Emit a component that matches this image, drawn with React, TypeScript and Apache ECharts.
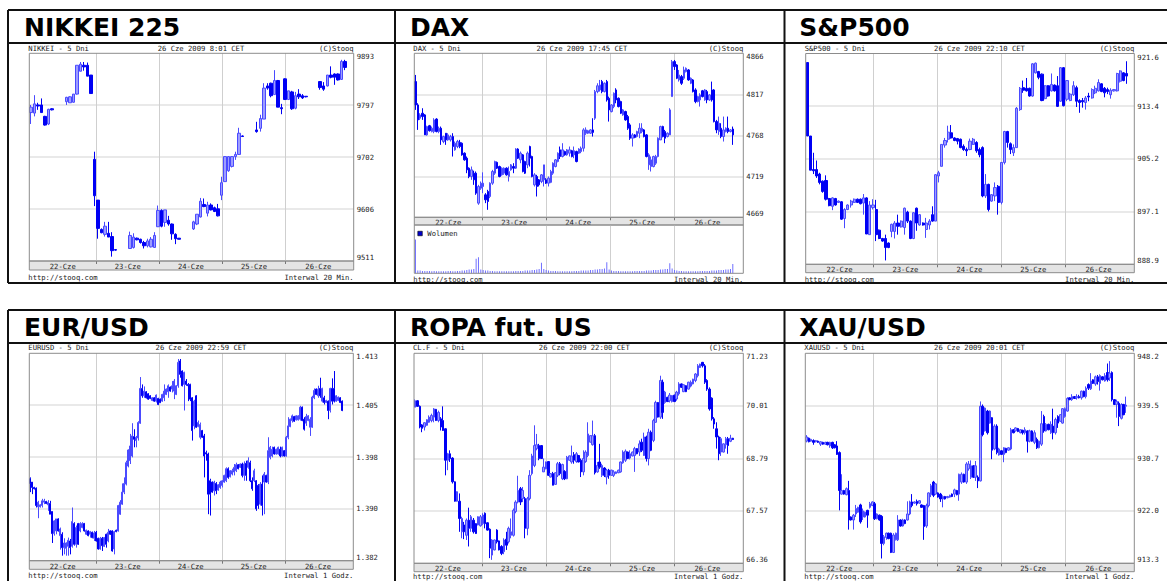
import React, { useEffect, useRef } from 'react';
import * as echarts from 'echarts';

// ---------------- labels ----------------
const days = ['22-Cze', '23-Cze', '24-Cze', '25-Cze', '26-Cze'];
const titles = ['NIKKEI 225', 'DAX', 'S&P500', 'EUR/USD', 'ROPA fut. US', 'XAU/USD'];
const codes = ['NIKKEI - 5 Dni', 'DAX - 5 Dni', 'S&P500 - 5 Dni', 'EURUSD - 5 Dni', 'CL.F - 5 Dni', 'XAUUSD - 5 Dni'];
const stamps = ['26 Cze 2009 8:01 CET', '26 Cze 2009 17:45 CET', '26 Cze 2009 22:10 CET', '26 Cze 2009 22:59 CET', '26 Cze 2009 22:00 CET', '26 Cze 2009 20:01 CET'];
const intervals = ['Interwal 20 Min.', 'Interwal 20 Min.', 'Interwal 20 Min.', 'Interwal 1 Godz.', 'Interwal 1 Godz.', 'Interwal 1 Godz.'];

const nikkeiTicks = ['9511', '9606', '9702', '9797', '9893'];
const daxTicks = ['4669', '4719', '4768', '4817', '4866'];
const spTicks = ['888.9', '897.1', '905.2', '913.4', '921.6'];
const eurTicks = ['1.382', '1.390', '1.398', '1.405', '1.413'];
const oilTicks = ['66.36', '67.57', '68.79', '70.01', '71.23'];
const xauTicks = ['913.3', '922.0', '930.7', '939.5', '948.2'];

// ---------------- data: [open, close, low, high] ----------------
const nikkeiSlots = [0, 1, 2, 3, 4, 5, 6, 10, 11, 12, 13, 14, 15, 16, 17, 18, 19, 20, 21, 22, 23, 24, 28, 29, 30, 31, 32, 33, 34, 35, 36, 37, 38, 39, 40, 41, 42, 46, 47, 48, 49, 50, 51, 52, 53, 54, 55, 56, 57, 58, 59, 60, 64, 65, 66, 67, 68, 69, 70, 71, 72, 73, 74, 75, 76, 77, 78, 82, 83, 84, 85, 86, 87, 88, 89];
const nikkeiOHLC = [
  [9784, 9794, 9763, 9798], [9783, 9800, 9777, 9816], [9798, 9796, 9789, 9802], [9798, 9784, 9784, 9810], [9777, 9761, 9760, 9778], [9763, 9790, 9761, 9791], [9791, 9789, 9788, 9792],
  [9804, 9812, 9798, 9813], [9802, 9813, 9802, 9814], [9803, 9818, 9802, 9818], [9818, 9871, 9817, 9871], [9860, 9873, 9860, 9877], [9871, 9868, 9861, 9877], [9871, 9851, 9851, 9876], [9853, 9819, 9819, 9853],
  [9698, 9631, 9612, 9712], [9623, 9571, 9552, 9623], [9569, 9563, 9562, 9571], [9560, 9575, 9556, 9583], [9562, 9555, 9555, 9583], [9556, 9530, 9519, 9564], [9532, 9531, 9530, 9533],
  [9534, 9558, 9534, 9565], [9536, 9555, 9534, 9562], [9553, 9550, 9549, 9554], [9551, 9545, 9543, 9552], [9545, 9539, 9534, 9548], [9539, 9548, 9536, 9552], [9537, 9551, 9536, 9555], [9536, 9558, 9536, 9564],
  [9574, 9604, 9574, 9613], [9604, 9575, 9573, 9606], [9582, 9605, 9574, 9605], [9586, 9579, 9576, 9594], [9579, 9561, 9550, 9580], [9560, 9552, 9542, 9562], [9553, 9551, 9551, 9553],
  [9570, 9583, 9568, 9585], [9579, 9597, 9577, 9597], [9592, 9621, 9591, 9627], [9615, 9611, 9610, 9626], [9599, 9614, 9593, 9620], [9614, 9605, 9604, 9617], [9609, 9602, 9601, 9611], [9607, 9594, 9593, 9616],
  [9632, 9655, 9623, 9666], [9657, 9703, 9657, 9704], [9677, 9703, 9675, 9704], [9685, 9703, 9683, 9704], [9703, 9707, 9697, 9712], [9707, 9746, 9706, 9756], [9741, 9740, 9739, 9742],
  [9752, 9749, 9747, 9767], [9755, 9773, 9749, 9780], [9772, 9829, 9772, 9838], [9833, 9829, 9826, 9838], [9838, 9815, 9812, 9839], [9817, 9843, 9817, 9862], [9843, 9794, 9794, 9844], [9793, 9791, 9781, 9800],
  [9846, 9808, 9807, 9847], [9808, 9824, 9807, 9824], [9822, 9791, 9789, 9824], [9792, 9815, 9790, 9822], [9818, 9813, 9809, 9827], [9815, 9811, 9809, 9818], [9814, 9813, 9812, 9814],
  [9841, 9830, 9826, 9842], [9833, 9827, 9824, 9840], [9833, 9853, 9832, 9853], [9853, 9849, 9847, 9869], [9855, 9849, 9835, 9856], [9855, 9844, 9843, 9856], [9845, 9878, 9844, 9881], [9878, 9867, 9862, 9881],
];

const daxOHLC = [
  [4832, 4804, 4798, 4840], [4804, 4786, 4774, 4806], [4788, 4792, 4786, 4794], [4794, 4790, 4786, 4800], [4792, 4768, 4768, 4793], [4768, 4778, 4767, 4779], [4779, 4773, 4772, 4780], [4772, 4776, 4771, 4778],
  [4772, 4786, 4770, 4788], [4787, 4772, 4771, 4788], [4772, 4776, 4770, 4778], [4776, 4762, 4756, 4778], [4760, 4766, 4758, 4767], [4770, 4762, 4756, 4770], [4762, 4768, 4761, 4770], [4762, 4766, 4760, 4768],
  [4766, 4754, 4742, 4770], [4750, 4758, 4749, 4760], [4754, 4760, 4752, 4762], [4759, 4754, 4752, 4762], [4758, 4744, 4743, 4759], [4746, 4738, 4737, 4747], [4740, 4726, 4722, 4742], [4728, 4718, 4716, 4729],
  [4718, 4726, 4714, 4730], [4722, 4714, 4708, 4725], [4722, 4698, 4696, 4724], [4686, 4706, 4684, 4708],
  [4704, 4710, 4702, 4712], [4706, 4710, 4698, 4723], [4696, 4690, 4686, 4698], [4700, 4688, 4678, 4702], [4694, 4710, 4692, 4711], [4710, 4724, 4708, 4726], [4722, 4736, 4720, 4737], [4735, 4728, 4727, 4736],
  [4730, 4718, 4717, 4731], [4720, 4728, 4719, 4729], [4722, 4728, 4720, 4729], [4728, 4720, 4719, 4729], [4718, 4724, 4712, 4730], [4726, 4732, 4725, 4733], [4730, 4728, 4722, 4734], [4728, 4751, 4727, 4752],
  [4751, 4740, 4739, 4752], [4738, 4746, 4734, 4748], [4744, 4724, 4723, 4745], [4736, 4722, 4721, 4737], [4732, 4746, 4728, 4748], [4754, 4740, 4730, 4755], [4742, 4718, 4717, 4743], [4708, 4720, 4706, 4722],
  [4718, 4706, 4694, 4720], [4714, 4708, 4706, 4715], [4712, 4720, 4710, 4721],
  [4714, 4732, 4706, 4732], [4714, 4710, 4709, 4716], [4710, 4716, 4706, 4718], [4711, 4724, 4710, 4726], [4722, 4734, 4720, 4735], [4730, 4738, 4729, 4739], [4736, 4746, 4735, 4747], [4750, 4742, 4739, 4754],
  [4742, 4750, 4741, 4758], [4748, 4744, 4743, 4749], [4744, 4750, 4743, 4751], [4746, 4750, 4742, 4754], [4749, 4742, 4741, 4750], [4744, 4749, 4740, 4754], [4748, 4736, 4735, 4749], [4746, 4751, 4745, 4752],
  [4748, 4752, 4746, 4754], [4752, 4774, 4748, 4776], [4770, 4774, 4768, 4777], [4770, 4773, 4769, 4774], [4770, 4774, 4769, 4775], [4774, 4771, 4766, 4788], [4788, 4820, 4786, 4822], [4820, 4827, 4818, 4830],
  [4822, 4828, 4820, 4834], [4832, 4820, 4818, 4834], [4820, 4830, 4819, 4831], [4832, 4810, 4808, 4834],
  [4812, 4798, 4784, 4814], [4796, 4804, 4795, 4805], [4802, 4818, 4800, 4819], [4822, 4810, 4806, 4824], [4812, 4802, 4801, 4813], [4808, 4794, 4793, 4809], [4792, 4798, 4791, 4799], [4796, 4786, 4785, 4797],
  [4790, 4776, 4774, 4792], [4780, 4764, 4762, 4782], [4764, 4768, 4754, 4770], [4768, 4765, 4764, 4769], [4766, 4772, 4765, 4773], [4770, 4776, 4764, 4782], [4772, 4776, 4770, 4782], [4774, 4766, 4765, 4775],
  [4768, 4742, 4741, 4769], [4732, 4744, 4726, 4746], [4730, 4738, 4724, 4742], [4730, 4742, 4729, 4743], [4734, 4742, 4732, 4744], [4742, 4764, 4741, 4765], [4762, 4778, 4762, 4779], [4778, 4766, 4765, 4779],
  [4772, 4764, 4758, 4774], [4766, 4770, 4765, 4771], [4768, 4798, 4768, 4800],
  [4814, 4856, 4814, 4858], [4856, 4850, 4846, 4858], [4852, 4836, 4835, 4853], [4834, 4840, 4832, 4846], [4838, 4830, 4828, 4840], [4836, 4846, 4834, 4850], [4844, 4848, 4843, 4849], [4846, 4834, 4833, 4847],
  [4830, 4836, 4829, 4837], [4834, 4820, 4819, 4835], [4822, 4808, 4806, 4824], [4808, 4814, 4807, 4815], [4810, 4816, 4802, 4818], [4821, 4814, 4813, 4822], [4810, 4822, 4809, 4823], [4820, 4810, 4806, 4822],
  [4810, 4816, 4809, 4817], [4822, 4810, 4808, 4832], [4822, 4784, 4783, 4823], [4784, 4774, 4770, 4786], [4772, 4782, 4768, 4790], [4776, 4766, 4764, 4782], [4766, 4774, 4760, 4790], [4772, 4776, 4771, 4777],
  [4776, 4772, 4770, 4790], [4772, 4774, 4771, 4775], [4775, 4768, 4756, 4778],
];
const daxVolume = [
  70, 6, 6, 5, 5, 5, 5, 4, 5, 4, 4, 4, 4, 4, 5, 5, 4, 4, 5, 5, 6, 6, 7, 8, 8, 9, 30, 33,
  8, 7, 6, 6, 5, 5, 4, 4, 4, 4, 4, 4, 4, 4, 4, 5, 5, 5, 5, 6, 6, 6, 7, 7, 8, 9, 22,
  9, 7, 6, 5, 5, 5, 4, 4, 4, 4, 4, 4, 4, 5, 5, 5, 6, 6, 6, 6, 7, 7, 8, 8, 9, 9, 10, 23,
  8, 6, 5, 5, 5, 4, 4, 4, 4, 4, 4, 5, 5, 5, 5, 5, 6, 6, 6, 7, 7, 7, 8, 8, 9, 9, 21,
  10, 7, 6, 5, 5, 4, 4, 4, 4, 4, 4, 4, 5, 5, 5, 5, 5, 6, 6, 6, 7, 7, 7, 8, 8, 9, 19,
];

const spOHLC = [
  [920.2, 908.8, 908.8, 920.2], [908.8, 903.5, 903.5, 908.8], [903.6, 903.4, 902.9, 906.2], [903.6, 902.6, 902.3, 905.0], [902.9, 901.6, 901.3, 903.1], [901.8, 900.2, 900.0, 901.9], [901.9, 899.0, 898.8, 902.7],
  [899.1, 898.0, 897.9, 899.2], [897.9, 899.2, 897.3, 899.3], [899.1, 898.1, 898.0, 899.2], [898.5, 898.7, 898.4, 898.8], [898.6, 895.9, 895.8, 898.7], [896.0, 897.4, 894.5, 897.6], [897.4, 898.1, 897.3, 898.2],
  [898.1, 898.7, 897.7, 898.9], [898.5, 899.0, 898.4, 899.1], [899.0, 898.5, 898.4, 899.1], [899.0, 898.3, 898.2, 899.1], [898.4, 899.2, 896.6, 899.8], [899.2, 893.6, 893.6, 899.3],
  [893.5, 898.1, 893.5, 898.7], [897.7, 898.1, 897.4, 899.0], [897.4, 893.5, 892.5, 898.9], [894.2, 892.9, 892.8, 894.3], [892.9, 892.5, 892.4, 893.0], [892.9, 891.5, 889.5, 893.5], [892.2, 891.5, 891.4, 892.3],
  [894.0, 895.1, 893.1, 895.2], [894.0, 895.3, 892.9, 895.6], [895.3, 894.8, 893.5, 896.6], [894.7, 895.6, 894.6, 895.7], [894.6, 897.6, 893.5, 897.7], [897.0, 895.6, 895.3, 897.2], [895.6, 892.9, 892.8, 895.7],
  [892.9, 896.9, 892.8, 897.0], [897.6, 895.3, 894.1, 897.7], [895.0, 896.6, 894.9, 896.7], [895.3, 895.0, 894.9, 895.4], [894.3, 895.3, 893.0, 896.1], [895.0, 895.6, 894.3, 895.9], [896.6, 895.6, 895.5, 897.9],
  [895.6, 902.8, 895.6, 902.9], [902.6, 903.1, 901.6, 903.4], [904.1, 907.5, 904.1, 907.5], [907.4, 908.1, 907.0, 908.5], [908.3, 909.4, 907.8, 910.4], [909.3, 908.5, 908.4, 910.5], [908.5, 908.1, 908.0, 908.6],
  [908.4, 908.0, 907.5, 908.5], [908.3, 907.0, 906.9, 908.4], [907.2, 906.7, 906.5, 907.5], [906.7, 906.5, 905.7, 907.0], [906.7, 908.0, 906.6, 908.4], [907.5, 908.3, 907.4, 908.5], [907.8, 906.5, 906.2, 908.0],
  [906.7, 905.9, 905.5, 907.0], [907.0, 899.5, 899.3, 907.2], [899.5, 901.3, 899.2, 902.9], [901.3, 897.4, 897.1, 901.4], [898.7, 899.7, 898.6, 899.8], [899.5, 900.8, 898.7, 901.6], [901.0, 898.5, 896.6, 901.2],
  [898.5, 904.7, 898.2, 904.7], [904.7, 909.5, 904.4, 909.6], [909.5, 907.8, 907.0, 909.6], [907.6, 906.7, 906.0, 907.8], [906.2, 907.0, 905.7, 907.5], [907.0, 913.1, 907.0, 913.3], [912.9, 916.2, 912.7, 916.4],
  [916.3, 915.9, 915.5, 917.4], [916.2, 915.8, 915.7, 917.8], [916.2, 915.0, 914.9, 916.3], [915.0, 920.0, 914.9, 920.1], [918.6, 920.1, 918.5, 920.2], [918.8, 917.9, 917.6, 918.9], [918.4, 914.3, 914.2, 918.5],
  [914.6, 916.6, 914.5, 916.7], [916.6, 915.0, 914.9, 916.7], [915.8, 916.8, 915.7, 918.5], [916.7, 915.8, 915.7, 916.8], [916.6, 913.4, 913.3, 918.1], [914.2, 919.4, 914.1, 919.5],
  [919.4, 913.5, 913.4, 919.5], [914.5, 917.4, 914.2, 917.4], [914.3, 915.3, 914.2, 915.5], [915.2, 916.6, 915.0, 917.3], [916.3, 914.2, 913.3, 916.6], [914.3, 914.0, 912.4, 914.5], [914.3, 914.1, 913.2, 914.7],
  [914.0, 914.7, 912.9, 915.0], [915.0, 914.85, 914.2, 915.5], [914.7, 916.0, 914.6, 916.2], [915.5, 916.2, 915.3, 916.6], [915.8, 917.1, 915.7, 917.6], [916.9, 915.7, 915.6, 917.0], [916.2, 915.5, 914.8, 916.4],
  [916.0, 915.7, 915.3, 916.3], [915.2, 915.9, 914.6, 916.2], [915.8, 916.0, 915.7, 916.1], [915.8, 918.5, 915.7, 918.6], [917.3, 918.9, 917.1, 919.0], [918.6, 917.4, 917.3, 918.7], [918.5, 918.1, 916.9, 920.4],
];

const eurOHLC = [
  [1.3940, 1.3933, 1.3920, 1.3942], [1.3935, 1.3927, 1.3917, 1.3935], [1.3927, 1.3925, 1.3924, 1.3928], [1.3926, 1.3900, 1.3897, 1.3927], [1.3898, 1.3905, 1.3881, 1.3907], [1.3898, 1.3901, 1.3897, 1.3902],
  [1.3900, 1.3907, 1.3897, 1.3910], [1.3905, 1.3907, 1.3902, 1.3910], [1.3906, 1.3903, 1.3902, 1.3907], [1.3901, 1.3905, 1.3892, 1.3908], [1.3903, 1.3887, 1.3887, 1.3907], [1.3891, 1.3858, 1.3844, 1.3891],
  [1.3858, 1.3877, 1.3855, 1.3878], [1.3862, 1.3880, 1.3857, 1.3880], [1.3880, 1.3862, 1.3861, 1.3881], [1.3855, 1.3865, 1.3834, 1.3867], [1.3857, 1.3837, 1.3825, 1.3860], [1.3837, 1.3844, 1.3827, 1.3851],
  [1.3836, 1.3844, 1.3825, 1.3845], [1.3839, 1.3848, 1.3825, 1.3852], [1.3847, 1.3837, 1.3827, 1.3850], [1.3839, 1.3876, 1.3837, 1.3897], [1.3873, 1.3842, 1.3840, 1.3875], [1.3842, 1.3867, 1.3837, 1.3870],
  [1.3873, 1.3842, 1.3841, 1.3874], [1.3862, 1.3873, 1.3860, 1.3875], [1.3867, 1.3873, 1.3866, 1.3875], [1.3873, 1.3862, 1.3861, 1.3874], [1.3857, 1.3863, 1.3856, 1.3864], [1.3862, 1.3855, 1.3854, 1.3863],
  [1.3857, 1.3861, 1.3852, 1.3862], [1.3860, 1.3852, 1.3851, 1.3861],
  [1.3851, 1.3859, 1.3847, 1.3862], [1.3860, 1.3847, 1.3846, 1.3862], [1.3851, 1.3835, 1.3834, 1.3852], [1.3835, 1.3851, 1.3834, 1.3853], [1.3851, 1.3840, 1.3832, 1.3853], [1.3839, 1.3852, 1.3838, 1.3853],
  [1.3857, 1.3842, 1.3837, 1.3858], [1.3847, 1.3860, 1.3845, 1.3865], [1.3862, 1.3857, 1.3856, 1.3863], [1.3862, 1.3832, 1.3831, 1.3863], [1.3835, 1.3861, 1.3827, 1.3862], [1.3863, 1.3861, 1.3860, 1.3864],
  [1.3862, 1.3900, 1.3861, 1.3901], [1.3887, 1.3905, 1.3886, 1.3908], [1.3902, 1.3920, 1.3901, 1.3933], [1.3920, 1.3933, 1.3917, 1.3942], [1.3932, 1.3964, 1.3930, 1.3967], [1.3959, 1.3983, 1.3957, 1.3984],
  [1.3967, 1.3989, 1.3962, 1.4007], [1.3974, 1.4004, 1.3972, 1.4023], [1.4003, 1.3999, 1.3987, 1.4014], [1.3997, 1.4002, 1.3987, 1.4004], [1.4001, 1.4024, 1.3997, 1.4026], [1.4023, 1.4075, 1.4022, 1.4092],
  [1.4075, 1.4064, 1.4061, 1.4081], [1.4064, 1.4071, 1.4061, 1.4078], [1.4070, 1.4061, 1.4060, 1.4071], [1.4067, 1.4059, 1.4058, 1.4068], [1.4064, 1.4060, 1.4059, 1.4065], [1.4057, 1.4061, 1.4056, 1.4062],
  [1.4061, 1.4056, 1.4055, 1.4062],
  [1.4056, 1.4065, 1.4054, 1.4066], [1.4060, 1.4051, 1.4050, 1.4061], [1.4059, 1.4054, 1.4053, 1.4060], [1.4056, 1.4066, 1.4055, 1.4067], [1.4061, 1.4071, 1.4056, 1.4081], [1.4066, 1.4074, 1.4065, 1.4075],
  [1.4070, 1.4079, 1.4061, 1.4081], [1.4077, 1.4071, 1.4070, 1.4078], [1.4074, 1.4079, 1.4069, 1.4086], [1.4071, 1.4086, 1.4059, 1.4089], [1.4066, 1.4079, 1.4065, 1.4080], [1.4079, 1.4114, 1.4076, 1.4119],
  [1.4116, 1.4096, 1.4091, 1.4119], [1.4101, 1.4079, 1.4078, 1.4102], [1.4081, 1.4099, 1.4042, 1.4100], [1.4086, 1.4081, 1.4079, 1.4089], [1.4081, 1.4079, 1.4056, 1.4083], [1.4081, 1.4059, 1.4056, 1.4082],
  [1.4061, 1.4012, 1.3997, 1.4062], [1.4019, 1.4056, 1.4014, 1.4058], [1.4064, 1.4017, 1.4016, 1.4065], [1.4018, 1.4024, 1.4017, 1.4027], [1.4002, 1.4021, 1.3999, 1.4024], [1.4012, 1.4002, 1.4001, 1.4013],
  [1.4004, 1.3974, 1.3942, 1.4007], [1.3979, 1.3977, 1.3967, 1.3982], [1.3977, 1.3917, 1.3887, 1.3979], [1.3937, 1.3917, 1.3885, 1.3940], [1.3935, 1.3920, 1.3919, 1.3936], [1.3922, 1.3935, 1.3915, 1.3937],
  [1.3933, 1.3922, 1.3917, 1.3935], [1.3923, 1.3931, 1.3922, 1.3932],
  [1.3927, 1.3935, 1.3925, 1.3937], [1.3930, 1.3937, 1.3927, 1.3938], [1.3935, 1.3945, 1.3934, 1.3946], [1.3937, 1.3955, 1.3935, 1.3957], [1.3955, 1.3942, 1.3940, 1.3957], [1.3943, 1.3952, 1.3942, 1.3953],
  [1.3947, 1.3952, 1.3945, 1.3955], [1.3950, 1.3957, 1.3945, 1.3962], [1.3952, 1.3961, 1.3950, 1.3964], [1.3961, 1.3955, 1.3954, 1.3962], [1.3957, 1.3962, 1.3956, 1.3963], [1.3962, 1.3945, 1.3942, 1.3964],
  [1.3945, 1.3962, 1.3937, 1.3966], [1.3963, 1.3945, 1.3937, 1.3967], [1.3957, 1.3967, 1.3955, 1.3972], [1.3964, 1.3937, 1.3935, 1.3967], [1.3937, 1.3925, 1.3922, 1.3942], [1.3937, 1.3952, 1.3935, 1.3955],
  [1.3937, 1.3895, 1.3892, 1.3938], [1.3930, 1.3900, 1.3895, 1.3932], [1.3902, 1.3932, 1.3900, 1.3935], [1.3932, 1.3900, 1.3885, 1.3945], [1.3935, 1.3947, 1.3887, 1.3950], [1.3945, 1.3935, 1.3934, 1.3946],
  [1.3935, 1.3982, 1.3932, 1.4002], [1.3972, 1.3987, 1.3969, 1.3989], [1.3974, 1.3984, 1.3972, 1.3988], [1.3987, 1.3977, 1.3976, 1.3988], [1.3977, 1.3984, 1.3976, 1.3985], [1.3977, 1.3987, 1.3976, 1.3988],
  [1.3984, 1.3974, 1.3972, 1.3988], [1.3974, 1.3987, 1.3973, 1.3988], [1.3982, 1.3974, 1.3973, 1.3983],
  [1.3974, 1.4002, 1.3973, 1.4004], [1.4002, 1.4019, 1.3999, 1.4032], [1.4018, 1.4029, 1.4017, 1.4030], [1.4027, 1.4034, 1.4024, 1.4036], [1.4033, 1.4026, 1.4025, 1.4034], [1.4028, 1.4034, 1.4027, 1.4035],
  [1.4028, 1.4034, 1.4027, 1.4035], [1.4029, 1.4047, 1.4027, 1.4049], [1.4047, 1.4027, 1.4026, 1.4048], [1.4029, 1.4014, 1.4012, 1.4032], [1.4023, 1.4033, 1.4019, 1.4037], [1.4027, 1.4034, 1.4026, 1.4035],
  [1.4017, 1.4029, 1.4004, 1.4032], [1.4017, 1.4062, 1.4016, 1.4064], [1.4061, 1.4072, 1.4059, 1.4075], [1.4074, 1.4066, 1.4065, 1.4075], [1.4064, 1.4074, 1.4061, 1.4079], [1.4075, 1.4064, 1.4061, 1.4091],
  [1.4056, 1.4075, 1.4054, 1.4076], [1.4061, 1.4054, 1.4051, 1.4064], [1.4054, 1.4057, 1.4053, 1.4058], [1.4056, 1.4042, 1.4029, 1.4057], [1.4042, 1.4075, 1.4039, 1.4076], [1.4075, 1.4056, 1.4051, 1.4090],
  [1.4075, 1.4056, 1.4054, 1.4101], [1.4056, 1.4064, 1.4055, 1.4065], [1.4057, 1.4062, 1.4056, 1.4063], [1.4061, 1.4054, 1.4053, 1.4062], [1.4056, 1.4042, 1.4041, 1.4057],
];

const oilOHLC = [
  [69.98, 70.13, 69.98, 70.16], [70.13, 70.00, 69.99, 70.14], [70.00, 69.52, 69.49, 70.02], [69.57, 69.49, 69.40, 69.59], [69.52, 69.62, 69.44, 69.63], [69.56, 69.69, 69.55, 69.70], [69.63, 69.75, 69.62, 69.79],
  [69.67, 69.79, 69.63, 69.83], [69.75, 69.94, 69.63, 69.96], [69.93, 69.67, 69.66, 69.94], [69.67, 69.86, 69.63, 69.90], [69.71, 69.52, 69.44, 69.75], [69.67, 69.44, 69.43, 70.00], [69.48, 68.75, 68.40, 69.49],
  [68.75, 68.90, 68.52, 68.92], [68.90, 68.79, 68.71, 68.98], [68.80, 68.25, 68.21, 68.82], [68.25, 67.80, 67.79, 68.26], [67.80, 68.02, 67.79, 68.03], [67.80, 67.40, 67.09, 67.98], [67.09, 67.40, 66.94, 67.44],
  [67.25, 67.09, 66.92, 67.32], [67.01, 67.36, 66.90, 67.40], [67.36, 67.17, 66.75, 67.65], [67.17, 67.44, 67.09, 67.48], [67.36, 67.09, 67.05, 67.41], [67.28, 67.05, 67.04, 67.29], [67.25, 67.44, 67.24, 67.45],
  [67.23, 67.44, 67.21, 67.48], [67.28, 67.48, 67.25, 67.52], [67.52, 67.28, 67.17, 67.54], [67.30, 67.13, 67.12, 67.31], [67.15, 66.71, 66.48, 67.17], [66.55, 66.90, 66.44, 66.92], [66.67, 66.90, 66.66, 66.91],
  [67.13, 66.86, 66.82, 67.15], [66.88, 66.67, 66.66, 66.89], [66.75, 66.59, 66.55, 66.78], [66.63, 66.90, 66.57, 66.94], [66.92, 66.78, 66.67, 67.09], [66.86, 67.17, 66.82, 67.21], [67.01, 67.09, 66.94, 67.40],
  [67.01, 67.59, 66.98, 67.63], [67.56, 67.78, 67.52, 67.82], [67.78, 68.05, 67.75, 68.39], [68.09, 67.78, 67.71, 68.13], [67.86, 68.05, 67.78, 68.13], [67.86, 67.17, 66.94, 67.90], [67.17, 67.86, 67.01, 67.90],
  [67.86, 68.40, 67.82, 68.52], [68.44, 68.85, 68.40, 68.90], [68.63, 69.09, 68.59, 69.56], [69.02, 69.11, 68.98, 69.36], [69.09, 68.79, 68.75, 69.13], [69.09, 68.79, 68.78, 69.10],
  [68.48, 68.59, 68.48, 68.79], [68.55, 68.71, 68.54, 68.72], [68.72, 68.40, 68.39, 68.73], [68.36, 68.44, 68.35, 68.45], [68.44, 68.17, 68.17, 68.48], [68.19, 68.46, 68.18, 68.47], [68.40, 68.67, 68.36, 68.71],
  [68.67, 68.44, 68.40, 68.71], [68.32, 68.65, 68.29, 68.67], [68.49, 68.32, 68.29, 68.52], [68.32, 68.82, 68.31, 68.85], [68.75, 68.85, 68.74, 68.86], [68.71, 68.85, 68.67, 69.09], [68.88, 68.75, 68.67, 68.94],
  [68.72, 68.90, 68.69, 68.94], [68.86, 68.71, 68.70, 68.87], [68.75, 68.48, 68.36, 68.79], [68.48, 68.79, 68.40, 68.98], [68.72, 68.94, 68.69, 68.98], [68.86, 69.36, 68.82, 69.63], [69.17, 69.32, 69.16, 69.33],
  [69.11, 69.32, 69.09, 69.67], [69.32, 68.46, 68.42, 69.36], [68.48, 68.63, 68.46, 68.71], [68.71, 68.59, 68.55, 69.13], [68.40, 68.63, 68.36, 68.67], [68.57, 68.40, 68.36, 68.59], [68.36, 68.52, 68.19, 68.55],
  [68.52, 68.40, 68.32, 68.55], [68.40, 68.52, 68.39, 68.53], [68.40, 68.48, 68.36, 68.52], [68.44, 68.48, 68.43, 68.49], [68.46, 68.52, 68.45, 68.53], [68.48, 68.71, 68.46, 68.72], [68.69, 68.94, 68.67, 68.98],
  [68.75, 68.96, 68.71, 69.00], [68.94, 68.79, 68.78, 68.95], [68.80, 68.90, 68.77, 68.98], [68.85, 68.94, 68.84, 68.95], [68.86, 69.02, 68.48, 69.06], [69.02, 68.90, 68.89, 69.03], [68.94, 69.13, 68.85, 69.21],
  [69.17, 68.98, 68.94, 69.25], [68.86, 69.29, 68.85, 69.39], [69.29, 68.79, 68.72, 69.32], [68.79, 69.40, 68.63, 69.48], [69.40, 68.98, 68.96, 69.44], [69.21, 69.67, 69.17, 69.71], [69.63, 70.09, 69.62, 70.13],
  [70.09, 69.75, 69.74, 70.10], [69.75, 70.60, 69.71, 70.71], [70.56, 69.86, 69.71, 70.62], [70.09, 70.33, 70.06, 70.36], [70.21, 70.11, 70.10, 70.22], [70.13, 70.26, 70.09, 70.31],
  [70.11, 70.25, 70.09, 70.26], [70.26, 70.11, 70.10, 70.27], [70.17, 70.33, 70.13, 70.36], [70.29, 70.52, 70.25, 70.56], [70.52, 70.44, 70.43, 70.53], [70.34, 70.50, 70.33, 70.51], [70.48, 70.34, 70.33, 70.49],
  [70.40, 70.56, 70.39, 70.57], [70.47, 70.56, 70.44, 70.60], [70.52, 70.63, 70.51, 70.64], [70.60, 70.75, 70.56, 70.77], [70.71, 70.94, 70.67, 70.98], [70.90, 70.98, 70.89, 70.99], [71.02, 70.94, 70.90, 71.03],
  [70.94, 70.56, 70.52, 70.98], [70.60, 70.40, 70.36, 70.63], [70.40, 69.94, 69.90, 70.44], [70.19, 69.71, 69.67, 70.21], [69.71, 69.59, 69.48, 69.75], [69.48, 69.29, 69.02, 69.63], [69.29, 68.90, 68.75, 69.32],
  [68.94, 69.25, 68.85, 69.29], [68.94, 69.13, 68.93, 69.14], [69.11, 69.25, 69.02, 69.29], [69.25, 69.09, 68.90, 69.29], [69.19, 69.26, 69.17, 69.34], [69.26, 69.23, 69.22, 69.27],
];

const xauOHLC = [
  [933.6, 934.3, 933.4, 934.6], [934.1, 933.5, 933.4, 934.2], [933.6, 933.9, 933.5, 934.0], [933.7, 933.4, 933.0, 933.9], [933.5, 933.7, 933.4, 933.8], [933.6, 933.4, 933.3, 933.7], [933.1, 933.5, 932.8, 933.6],
  [933.4, 933.1, 933.0, 933.5], [933.1, 933.4, 933.0, 933.5], [933.4, 933.0, 932.9, 933.5], [932.8, 933.4, 932.5, 933.5], [933.4, 932.5, 932.3, 933.5], [933.0, 932.5, 932.4, 933.1], [932.8, 931.4, 931.3, 933.6],
  [931.7, 925.4, 922.1, 931.9], [924.8, 925.4, 924.7, 928.1], [925.4, 924.8, 924.7, 925.5], [924.7, 925.7, 924.6, 925.9], [925.4, 920.5, 918.9, 927.0], [921.0, 920.5, 920.4, 921.1], [920.5, 921.3, 918.9, 921.5],
  [921.5, 922.4, 921.0, 923.0], [921.8, 922.6, 921.7, 922.7], [923.0, 920.2, 919.9, 923.2], [921.0, 922.0, 920.5, 922.4], [921.0, 921.8, 920.9, 921.9], [922.1, 921.3, 919.2, 922.2],
  [922.6, 923.2, 922.4, 923.5], [922.9, 923.5, 922.8, 923.6], [923.2, 920.7, 920.5, 923.5], [920.7, 921.5, 920.6, 921.6], [921.3, 920.5, 920.4, 921.4], [921.1, 916.6, 914.1, 921.3], [916.6, 917.7, 916.3, 918.0],
  [917.6, 918.3, 917.2, 918.4], [918.3, 917.4, 917.3, 918.4], [918.3, 915.1, 915.0, 918.4], [915.1, 918.0, 915.0, 918.3], [917.2, 918.3, 917.1, 918.4], [917.2, 920.5, 917.0, 921.3], [920.5, 919.5, 919.4, 920.6],
  [919.5, 920.5, 919.4, 920.7], [920.5, 919.9, 919.8, 920.6], [920.5, 921.5, 920.4, 923.6], [921.5, 923.5, 921.3, 923.7], [923.5, 922.9, 922.6, 924.8], [923.3, 923.5, 923.2, 923.6], [923.6, 923.2, 922.9, 923.9],
  [923.3, 923.7, 923.2, 923.8], [923.0, 922.6, 922.5, 923.1], [922.9, 919.4, 917.2, 923.0], [919.5, 922.9, 919.2, 923.2], [922.9, 925.0, 922.6, 925.1], [924.7, 926.2, 924.3, 926.5], [926.8, 924.6, 924.3, 927.0],
  [924.8, 926.5, 924.7, 926.6], [925.0, 924.3, 924.2, 925.1], [924.8, 924.0, 923.5, 925.0], [924.0, 924.4, 922.6, 924.6], [924.4, 924.0, 923.9, 924.5], [924.2, 924.4, 924.1, 924.5], [924.3, 924.6, 924.2, 924.7],
  [924.8, 924.4, 924.3, 924.9], [924.8, 925.5, 924.3, 925.7], [925.4, 924.7, 924.6, 925.5], [924.8, 928.1, 923.7, 928.2], [926.8, 928.1, 926.5, 928.4], [928.1, 926.8, 926.7, 928.2], [926.8, 929.8, 926.5, 930.1],
  [929.0, 929.8, 928.7, 930.3], [927.6, 929.5, 927.3, 930.4], [929.5, 927.6, 927.5, 929.6], [927.6, 929.5, 927.0, 930.3], [927.6, 927.0, 925.8, 927.9], [927.0, 939.4, 926.9, 940.2], [939.4, 934.7, 934.4, 939.7],
  [935.3, 939.1, 935.2, 939.2], [938.6, 935.0, 934.7, 938.8], [936.6, 938.6, 936.5, 938.7], [937.5, 932.1, 930.6, 937.6], [932.3, 936.1, 932.1, 936.4], [936.1, 931.7, 931.4, 936.4], [931.3, 932.3, 931.2, 932.5],
  [932.0, 931.4, 931.3, 932.1], [931.4, 932.5, 930.1, 932.6], [932.4, 931.7, 931.6, 932.5], [932.1, 932.5, 932.0, 932.6], [932.3, 935.5, 932.1, 935.8], [935.5, 935.0, 934.9, 935.6], [935.3, 935.8, 935.2, 935.9],
  [935.7, 935.2, 935.1, 935.8], [935.0, 935.5, 934.9, 935.6], [935.4, 935.0, 934.7, 935.5], [935.0, 935.5, 934.7, 935.9], [935.3, 933.6, 931.7, 935.4], [933.6, 935.3, 933.4, 935.5], [935.3, 933.6, 933.5, 935.4],
  [933.4, 935.0, 933.1, 935.4], [933.9, 932.5, 932.3, 934.2], [932.5, 933.6, 932.4, 933.7], [933.1, 936.5, 932.8, 938.6], [937.7, 935.3, 935.0, 938.0], [935.3, 936.4, 935.2, 936.6], [936.4, 935.5, 935.4, 936.5],
  [935.0, 936.4, 934.8, 936.9], [936.1, 935.0, 933.9, 939.0], [935.0, 937.2, 934.7, 937.5], [937.7, 936.6, 935.8, 937.9], [936.9, 938.0, 936.8, 938.1], [936.6, 939.0, 936.5, 939.1], [937.7, 939.0, 937.5, 939.2],
  [938.6, 940.7, 938.5, 940.9], [940.8, 940.5, 940.4, 940.9], [940.5, 941.0, 940.3, 941.4], [941.0, 940.7, 940.6, 941.1], [940.8, 941.0, 940.5, 941.4], [941.0, 940.8, 940.7, 941.3], [940.8, 941.9, 940.5, 942.0],
  [941.9, 941.0, 940.9, 942.0], [941.0, 942.4, 940.7, 942.7], [943.0, 942.4, 942.1, 943.2], [942.3, 943.6, 942.1, 944.9], [943.8, 943.2, 943.1, 943.9], [943.1, 944.3, 942.8, 944.5], [944.3, 943.5, 943.0, 944.6],
  [943.2, 944.5, 942.0, 944.7], [944.3, 943.8, 943.7, 944.4], [943.6, 944.5, 943.5, 944.9], [945.0, 943.8, 943.5, 946.5], [944.1, 944.9, 943.6, 946.9], [945.0, 940.5, 940.2, 945.2], [940.5, 939.7, 939.6, 940.6],
  [939.7, 940.2, 937.5, 940.5], [939.9, 937.7, 936.1, 940.2], [937.4, 939.7, 937.2, 939.9], [939.7, 938.0, 937.9, 939.8], [939.4, 939.6, 938.3, 941.0],
];

// ---------------- layout (pixels) ----------------
const layout = [
  { l: 29.3, r: 353.7, t: 53.3, b: 261, band: 270, header: 48.3, headerCX: 201, footer: 277, titleX: 24, titleY: 27, n: 92, bw: 3, shift: 0 },
  { l: 414.3, r: 743.3, t: 53.3, b: 217.3, band: 225, header: 48.3, headerCX: 582, footer: 279.3, titleX: 410, titleY: 27, n: 141, bw: 2, shift: 0, vol: 273.3 },
  { l: 805.7, r: 1134.3, t: 53.5, b: 264.3, band: 272.7, header: 48.3, headerCX: 979.5, footer: 279.5, titleX: 799.3, titleY: 27, n: 105, bw: 2.6, shift: 0 },
  { l: 29.3, r: 353.3, t: 353.3, b: 560.7, band: 569.3, header: 347.3, headerCX: 201, footer: 575.5, titleX: 24, titleY: 327, n: 162, bw: 1.6, shift: -0.00025 },
  { l: 414, r: 743.3, t: 353.3, b: 563.3, band: 571.7, header: 347.3, headerCX: 584.3, footer: 576.3, titleX: 410, titleY: 327, n: 141, bw: 2, shift: 0 },
  { l: 805.3, r: 1134.3, t: 353.3, b: 563.3, band: 571.7, header: 347.3, headerCX: 979.5, footer: 576.3, titleX: 799.3, titleY: 327, n: 140, bw: 2, shift: 0 },
];
const frame = [
  [8, 10, 1167, 10], [8, 43, 1167, 43], [8, 283, 1167, 283], [8, 10, 8, 283], [395, 10, 395, 283], [784.5, 10, 784.5, 283],
  [8, 310, 1167, 310], [8, 343, 1167, 343], [8, 310, 8, 581], [395, 310, 395, 581], [784.5, 310, 784.5, 581],
];

const MONO = 'DejaVu Sans Mono';
const SMALL = 7.2;

function buildOption() {
  const panels = [
    { ohlc: nikkeiOHLC, slots: nikkeiSlots, ticks: nikkeiTicks },
    { ohlc: daxOHLC, ticks: daxTicks },
    { ohlc: spOHLC, ticks: spTicks },
    { ohlc: eurOHLC, ticks: eurTicks },
    { ohlc: oilOHLC, ticks: oilTicks },
    { ohlc: xauOHLC, ticks: xauTicks },
  ] as { ohlc: number[][]; slots?: number[]; ticks: string[] }[];

  const grid: any[] = [];
  const xAxis: any[] = [];
  const yAxis: any[] = [];
  const series: any[] = [];
  const graphic: any[] = [];

  const dayMin = -0.06;
  const dayMax = 5.08;
  const dayLabelAt = [0.47, 1.5, 2.5, 3.5, 4.52];
  const dayBounds = [1, 2, 3, 4];

  const text = (x: number, y: number, s: string, align: string, extra: any = {}) => ({
    type: 'text', x, y, z: 20, silent: true,
    style: {
      text: s, fill: '#222', fontFamily: MONO, fontSize: SMALL,
      align, textAlign: align, verticalAlign: 'middle', textVerticalAlign: 'middle', ...extra,
    },
  });

  const addDayAxis = (gi: number, withLabels: boolean) => {
    xAxis.push({
      type: 'value', gridIndex: gi, min: dayMin, max: dayMax, position: 'bottom',
      axisLine: { show: false },
      axisTick: { show: withLabels, customValues: dayBounds, length: 3, lineStyle: { color: '#777', width: 1 } },
      splitLine: { show: true, lineStyle: { color: '#cfcfcf', width: 1 } },
      axisLabel: withLabels
        ? {
            show: true, customValues: dayLabelAt, formatter: (v: number) => days[Math.floor(v)],
            margin: 1.5, fontFamily: MONO, fontSize: SMALL, color: '#222', lineHeight: 8,
            showMinLabel: true, showMaxLabel: true, hideOverlap: false,
          }
        : { show: false },
    });
  };

  panels.forEach((p, k) => {
    const L = layout[k];
    const gi = grid.length;
    grid.push({ left: L.l, top: L.t, width: L.r - L.l, height: L.b - L.t, show: false, containLabel: false, outerBoundsMode: 'none' });

    const xc = xAxis.length;
    xAxis.push({
      type: 'category', gridIndex: gi, boundaryGap: true, show: false,
      data: Array.from({ length: L.n }, (_, i) => String(i)),
    });
    addDayAxis(gi, true);

    const lo = Number(p.ticks[0]) + L.shift;
    const hi = Number(p.ticks[4]) + L.shift;
    const tv = [0, 1, 2, 3, 4].map((j) => lo + ((hi - lo) * j) / 4);
    const yi = yAxis.length;
    yAxis.push({
      type: 'value', gridIndex: gi, position: 'right', min: lo, max: hi, scale: true,
      axisLine: { show: false },
      axisTick: { show: false, customValues: tv },
      splitLine: { show: true, showMinLine: false, showMaxLine: false, lineStyle: { color: '#e2e2e2', width: 1.5 } },
      axisLabel: {
        customValues: tv,
        formatter: (v: number) => p.ticks[Math.round(((v - lo) / (hi - lo)) * 4)],
        margin: 3, fontFamily: MONO, fontSize: SMALL, color: '#222',
        verticalAlignMinLabel: 'bottom', verticalAlignMaxLabel: 'top',
        showMinLabel: true, showMaxLabel: true, hideOverlap: false,
      },
    });

    const data = p.ohlc.map((c, i) => [p.slots ? p.slots[i] : i, c[0], c[1], c[2], c[3]]);
    series.push({
      type: 'candlestick', xAxisIndex: xc, yAxisIndex: yi, barWidth: L.bw, data,
      encode: { x: 0, y: [1, 2, 3, 4] },
      itemStyle: {
        color: '#9d9dff', color0: '#0000f4', borderColor: '#4a4aff', borderColor0: '#0000f4',
        borderColorDoji: '#0000f4', borderWidth: 1,
      },
    });

    // volume sub-chart for DAX
    if ((L as any).vol) {
      const vgi = grid.length;
      grid.push({ left: L.l, top: L.band, width: L.r - L.l, height: (L as any).vol - L.band, show: false, containLabel: false, outerBoundsMode: 'none' });
      const vx = xAxis.length;
      xAxis.push({ type: 'category', gridIndex: vgi, boundaryGap: true, show: false, data: Array.from({ length: L.n }, (_, i) => String(i)) });
      addDayAxis(vgi, false);
      const vy = yAxis.length;
      yAxis.push({ type: 'value', gridIndex: vgi, min: 0, max: 100, show: false, splitLine: { show: false } });
      series.push({ type: 'bar', name: 'Wolumen', xAxisIndex: vx, yAxisIndex: vy, data: daxVolume, barWidth: 1, itemStyle: { color: '#6f6fff' } });
      graphic.push({ type: 'rect', z: 30, silent: true, shape: { x: L.l, y: L.band, width: L.r - L.l, height: (L as any).vol - L.band }, style: { fill: 'none', stroke: '#8c8c8c', lineWidth: 1 } });
    }

    // decorations: plot border, date band, header & footer texts, big title
    graphic.push({ type: 'rect', z: -1, silent: true, shape: { x: L.l, y: L.b, width: L.r - L.l, height: L.band - L.b }, style: { fill: '#e4e4e4', stroke: '#8c8c8c', lineWidth: 1 } });
    graphic.push({ type: 'rect', z: 30, silent: true, shape: { x: L.l, y: L.t, width: L.r - L.l, height: L.b - L.t }, style: { fill: 'none', stroke: '#8c8c8c', lineWidth: 1 } });
    graphic.push(text(L.l - 1, L.header, codes[k], 'left'));
    graphic.push(text(L.headerCX, L.header, stamps[k], 'center'));
    graphic.push(text(L.r, L.header, '(C)Stooq', 'right'));
    graphic.push(text(L.l - 1, L.footer, 'http://stooq.com', 'left'));
    graphic.push(text(L.r, L.footer, intervals[k], 'right'));
    graphic.push(text(L.titleX, L.titleY, titles[k], 'left', { fill: '#000', fontFamily: 'DejaVu Sans', fontSize: 25, fontWeight: 'bold' }));
  });

  frame.forEach((f) => {
    graphic.push({ type: 'line', z: 40, silent: true, shape: { x1: f[0], y1: f[1], x2: f[2], y2: f[3] }, style: { stroke: '#111', lineWidth: 2 } });
  });

  return {
    animation: false,
    backgroundColor: '#fff',
    legend: {
      data: ['Wolumen'], left: 417.5, top: 230, padding: 0, itemWidth: 4.5, itemHeight: 4.5, itemGap: 0,
      icon: 'rect', selectedMode: false,
      itemStyle: { color: '#0000cc', borderColor: '#000', borderWidth: 0.6 },
      textStyle: { fontFamily: MONO, fontSize: SMALL, color: '#222' },
    },
    grid, xAxis, yAxis, series, graphic,
  };
}

export default function App() {
  const ref = useRef<HTMLDivElement>(null);
  useEffect(() => {
    if (!ref.current) return;
    const chart = echarts.init(ref.current, null, { renderer: 'svg' });
    chart.setOption(buildOption() as any);
    return () => chart.dispose();
  }, []);
  return (
    <div
      ref={ref}
      style={{ position: 'absolute', left: 0, top: 0, width: 1167, height: 581, background: '#fff' }}
    />
  );
}
